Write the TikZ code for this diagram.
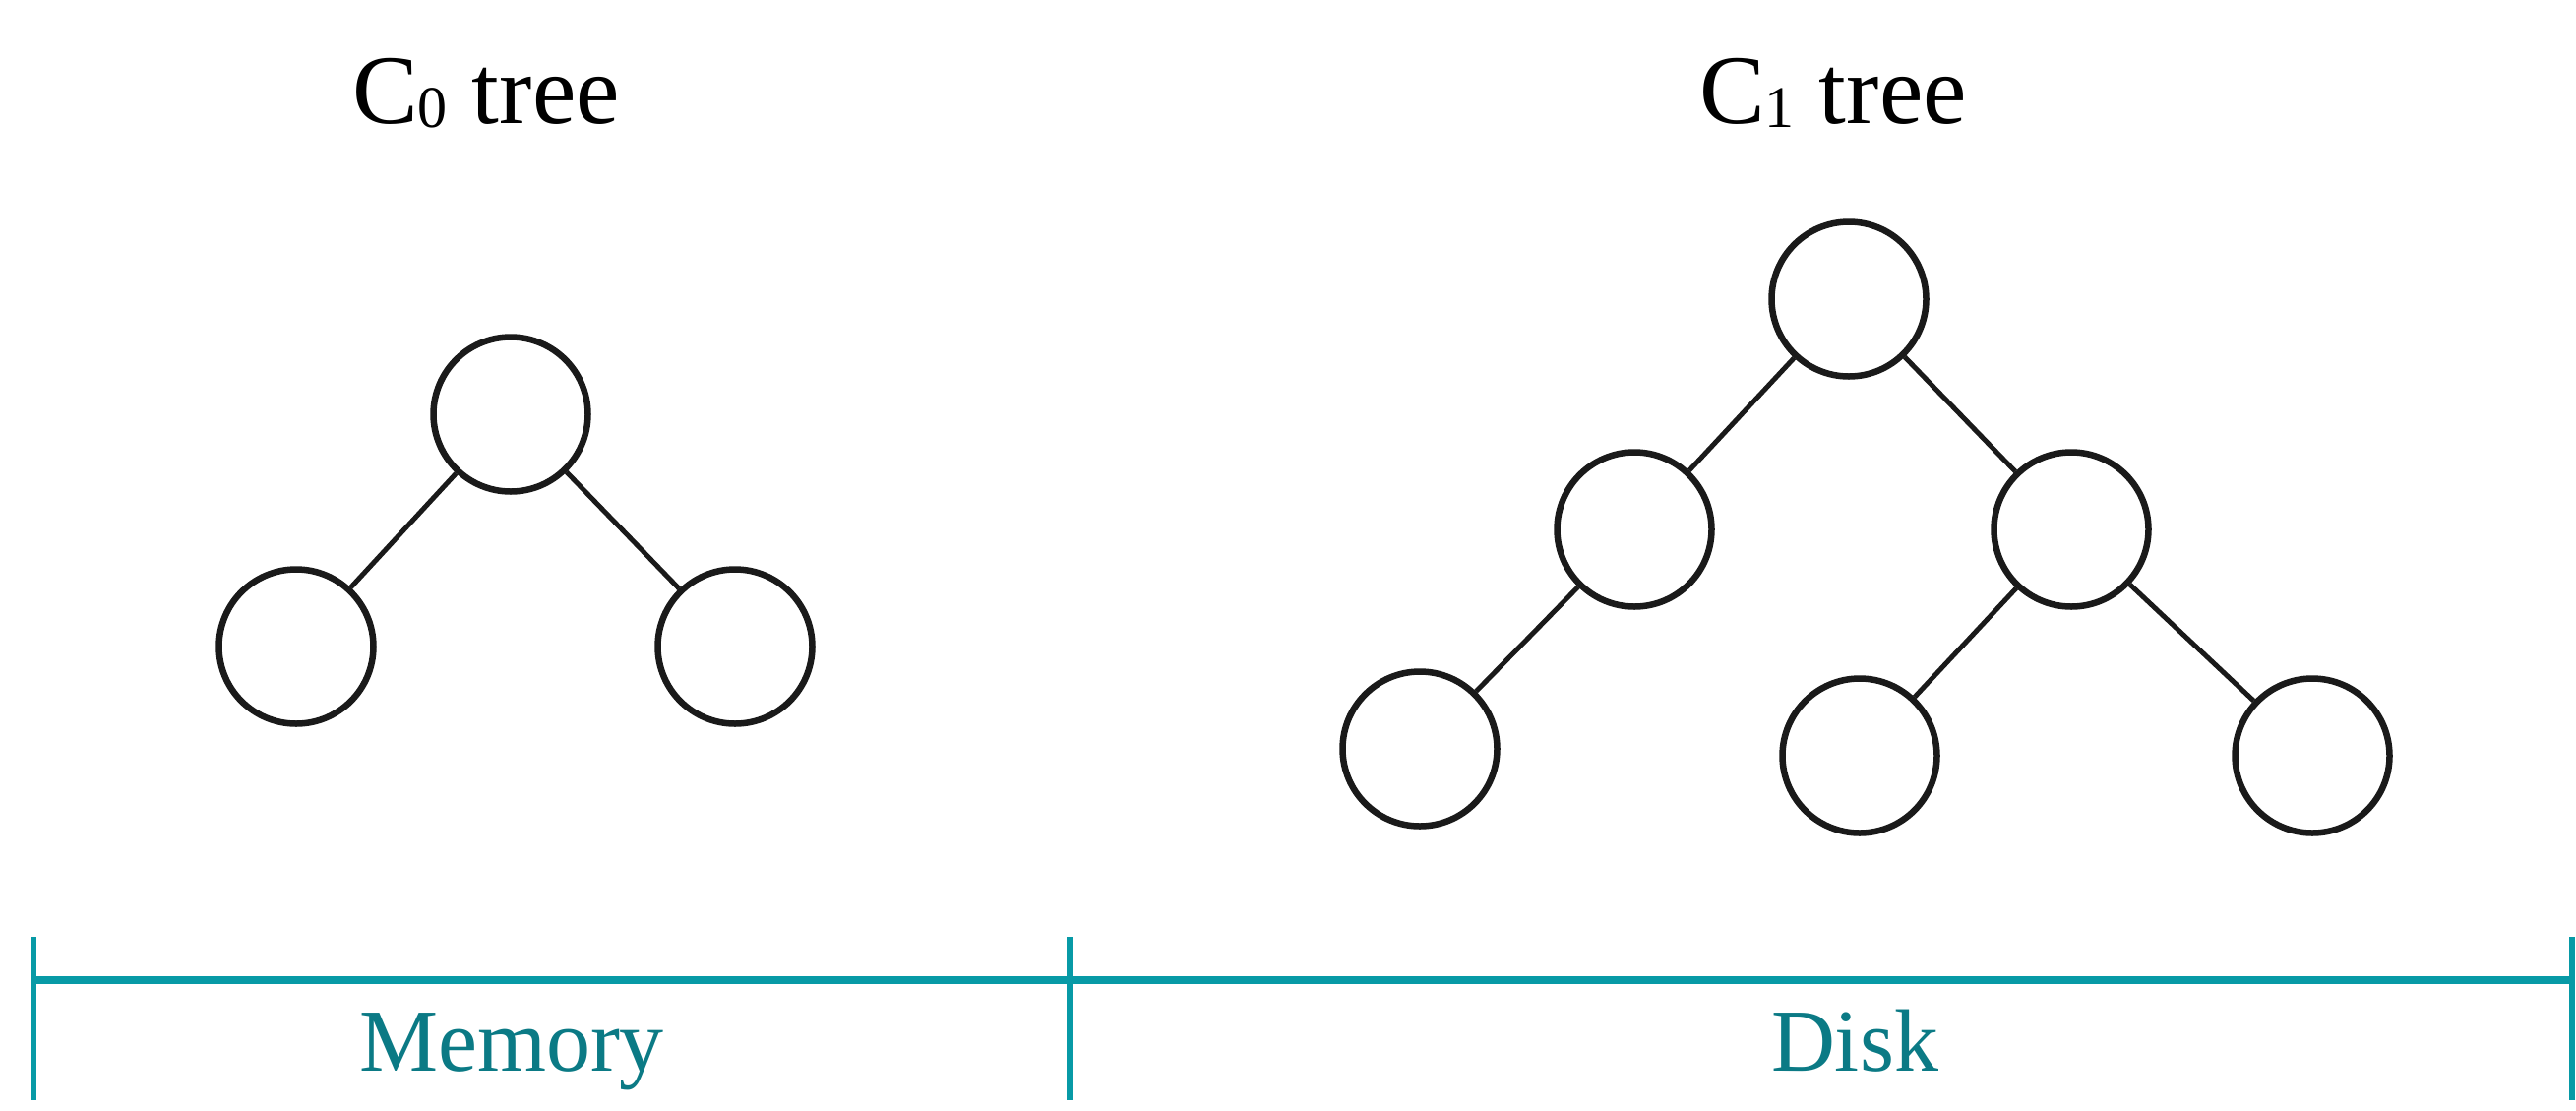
\documentclass[tikz,border=0pt]{standalone}
\usepackage{fontspec}
\setmainfont{Liberation Serif}
\definecolor{tealline}{HTML}{079AA6}
\definecolor{tealtext}{HTML}{0B7A85}
\definecolor{inkc}{HTML}{1A1A1A}
\tikzset{
  tnode/.style={circle, draw=inkc, line width=6.5pt, minimum size=157pt, inner sep=0pt},
  tedge/.style={draw=inkc, line width=5pt},
  title/.style={anchor=base, font=\fontsize{100}{110}\selectfont, inner sep=0pt},
  region/.style={anchor=base, text=tealtext, font=\fontsize{90}{100}\selectfont, inner sep=0pt},
  bar/.style={draw=tealline, line width=7.5pt},
  tick/.style={draw=tealline, line width=5.5pt}
}
\newcommand{\subdig}[1]{\raisebox{-4pt}{\fontsize{60}{60}\selectfont #1}}
\begin{document}
\begin{tikzpicture}[x=1pt, y=-1pt]
\path[use as bounding box, fill=white] (0,0) rectangle (2618,1128);

% titles
\node[title] (t0) at (494,125) {C\subdig{0} tree};
\node[title] (t1) at (1863,125) {C\subdig{1} tree};

% C0 tree
\node[tnode] (a) at (519,421) {};
\node[tnode] (al) at (301,657) {};
\node[tnode] (ar) at (747,657) {};
\draw[tedge] (a) -- (al);
\draw[tedge] (a) -- (ar);

% C1 tree
\node[tnode] (b) at (1879,304) {};
\node[tnode] (bl) at (1661,538) {};
\node[tnode] (br) at (2105,538) {};
\node[tnode] (bll) at (1443,761) {};
\node[tnode] (brl) at (1890,768) {};
\node[tnode] (brr) at (2350,768) {};
\draw[tedge] (b) -- (bl);
\draw[tedge] (b) -- (br);
\draw[tedge] (bl) -- (bll);
\draw[tedge] (br) -- (brl);
\draw[tedge] (br) -- (brr);

% bottom bar
\coordinate (p0) at (34,996);
\coordinate (p1) at (1087,996);
\coordinate (p2) at (2614,996);
\draw[bar] (p0) -- (p2);
\draw[tick] ([yshift=44pt]p0) -- ([yshift=-122pt]p0);
\draw[tick] ([yshift=44pt]p1) -- ([yshift=-122pt]p1);
\draw[tick] ([yshift=44pt]p2) -- ([yshift=-122pt]p2);

\node[region] (mem) at (520,1088) {Memory};
\node[region] (disk) at (1885,1088) {Disk};
\end{tikzpicture}
\end{document}
